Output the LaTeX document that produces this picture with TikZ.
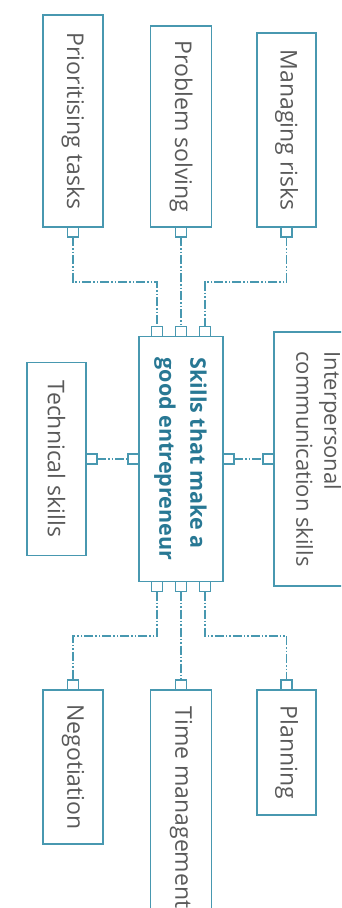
\documentclass[tikz,border=0pt]{standalone}
\usepackage{fontspec}
\setmainfont{Open Sans}
\usetikzlibrary{positioning,calc}
\definecolor{skillline}{RGB}{72,152,176}
\definecolor{skilltext}{RGB}{90,90,90}
\definecolor{coretext}{RGB}{40,120,148}
\tikzset{
  skill/.style={draw=skillline, line width=1.8pt, fill=white, inner sep=0pt, outer sep=0pt,
    text=skilltext, font=\fontsize{23}{31}\selectfont},
  corebox/.style={skill, text=coretext, font=\fontsize{21.5}{31}\selectfont\bfseries},
  port/.style={draw=skillline, line width=1.5pt, fill=white, inner sep=0pt, outer sep=0pt,
    minimum width=11pt, minimum height=10pt},
  link/.style={draw=skillline, line width=1.6pt,
    dash pattern=on 9pt off 2pt on 1.5pt off 2pt on 1.5pt off 2pt}
}
\begin{document}
\begin{tikzpicture}[x=1pt, y=-1pt]
  \useasboundingbox (0,0) rectangle (341,908);
  \clip (0,0) rectangle (341,908);
  % centre box
  \node[corebox, minimum width=84pt, minimum height=245pt] (core) at (181,459)
    {\rotatebox{-90}{\begin{tabular}{@{}l@{}}Skills that make a\\good entrepreneur\end{tabular}}};
  % top row
  \node[skill, minimum width=60pt, minimum height=212pt] (prio) at (73,121) {\rotatebox{-90}{Prioritising tasks}};
  \node[skill, minimum width=61pt, minimum height=201pt] (prob) at (181,126.5) {\rotatebox{-90}{Problem solving}};
  \node[skill, minimum width=59pt, minimum height=194pt] (risk) at (286.5,130) {\rotatebox{-90}{Managing risks}};
  % sides
  \node[skill, minimum width=59pt, minimum height=193pt] (tech) at (56.5,459) {\rotatebox{-90}{Technical skills}};
  \node[skill, minimum width=84pt, minimum height=254pt, font=\fontsize{22}{28}\selectfont] (inter) at (316,459)
    {\rotatebox{-90}{\begin{tabular}{@{}l@{}}Interpersonal\\communication skills\end{tabular}}};
  % bottom row
  \node[skill, minimum width=60pt, minimum height=154pt] (nego) at (73,767) {\rotatebox{-90}{Negotiation}};
  \node[skill, minimum width=61pt, minimum height=235pt] (time) at (181,807.5) {\rotatebox{-90}{Time management}};
  \node[skill, minimum width=59pt, minimum height=125pt] (plan) at (286.5,752.5) {\rotatebox{-90}{Planning}};

  % ports
  \node[port, below=0pt of prio] (prio-p) {};
  \node[port, below=0pt of prob] (prob-p) {};
  \node[port, below=0pt of risk] (risk-p) {};
  \node[port, right=0pt of tech] (tech-p) {};
  \node[port, left=0pt of inter] (inter-p) {};
  \node[port, above=0pt of nego] (nego-p) {};
  \node[port, above=0pt of time] (time-p) {};
  \node[port, above=0pt of plan] (plan-p) {};
  \node[port, above=0pt of core, xshift=-24pt] (core-t1) {};
  \node[port, above=0pt of core] (core-t2) {};
  \node[port, above=0pt of core, xshift=24pt] (core-t3) {};
  \node[port, below=0pt of core, xshift=-24pt] (core-b1) {};
  \node[port, below=0pt of core] (core-b2) {};
  \node[port, below=0pt of core, xshift=24pt] (core-b3) {};
  \node[port, left=0pt of core] (core-l) {};
  \node[port, right=0pt of core] (core-r) {};

  % links
  \draw[link] (prio-p.south) |- ($(prio-p.south)!.5!(core-t1.north)$) -| (core-t1.north);
  \draw[link] (prob-p.south) -- (core-t2.north);
  \draw[link] (risk-p.south) |- ($(risk-p.south)!.5!(core-t3.north)$) -| (core-t3.north);
  \draw[link] (tech-p.east) -- (core-l.west);
  \draw[link] (core-r.east) -- (inter-p.west);
  \draw[link] (core-b1.south) |- ($(core-b1.south)!.5!(nego-p.north)$) -| (nego-p.north);
  \draw[link] (core-b2.south) -- (time-p.north);
  \draw[link] (core-b3.south) |- ($(core-b3.south)!.5!(plan-p.north)$) -| (plan-p.north);
\end{tikzpicture}
\end{document}
